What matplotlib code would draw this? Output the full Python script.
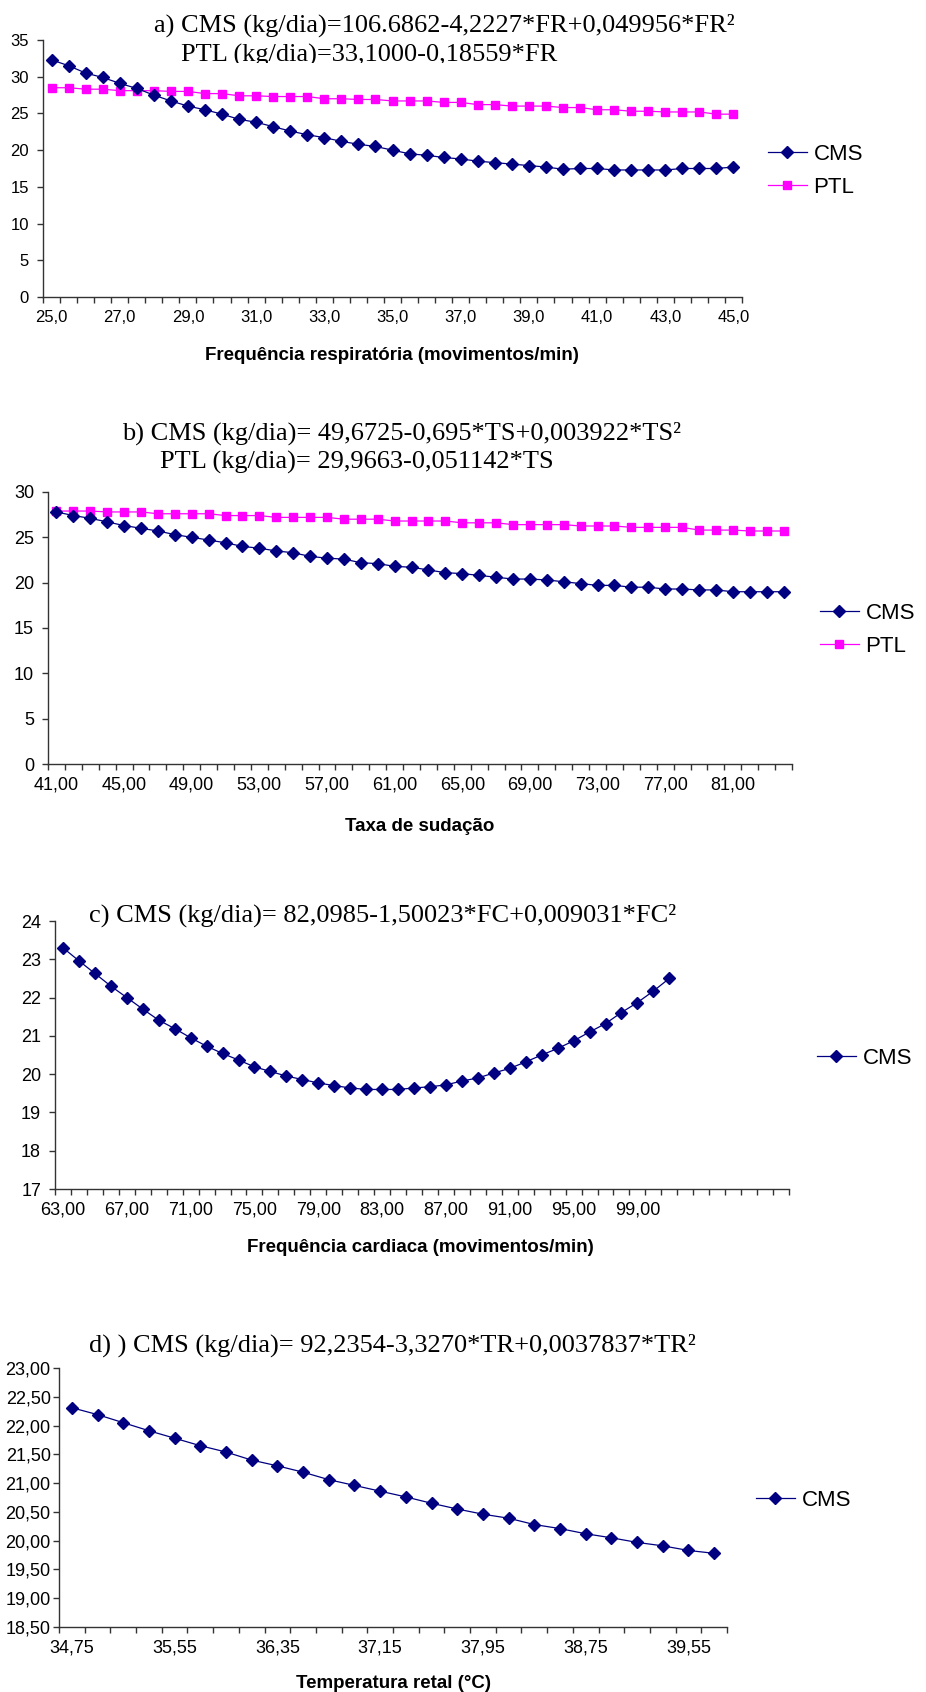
import numpy as np
import matplotlib
matplotlib.use("Agg")
import matplotlib.pyplot as plt
from matplotlib.lines import Line2D
from matplotlib.transforms import Bbox, TransformedBbox

plt.rcParams['font.family'] = ['Liberation Sans', 'DejaVu Sans']

# a) frequencia respiratoria
fr = [25.0, 25.5, 26.0, 26.5, 27.0, 27.5, 28.0, 28.5, 29.0, 29.5, 30.0, 30.5, 31.0, 31.5,
      32.0, 32.5, 33.0, 33.5, 34.0, 34.5, 35.0, 35.5, 36.0, 36.5, 37.0, 37.5, 38.0, 38.5,
      39.0, 39.5, 40.0, 40.5, 41.0, 41.5, 42.0, 42.5, 43.0, 43.5, 44.0, 44.5, 45.0]
cms_a = [32.3, 31.5, 30.5, 29.9, 29.1, 28.4, 27.5, 26.7, 26.0, 25.5, 24.9, 24.2, 23.8, 23.2,
         22.6, 22.1, 21.7, 21.2, 20.8, 20.5, 20.0, 19.5, 19.3, 19.0, 18.8, 18.5, 18.3, 18.1,
         17.9, 17.7, 17.4, 17.5, 17.5, 17.3, 17.3, 17.3, 17.3, 17.5, 17.5, 17.5, 17.7]
ptl_a = [28.5, 28.5, 28.3, 28.3, 28.1, 28.1, 28.1, 28.0, 28.0, 27.7, 27.7, 27.4, 27.4, 27.3,
         27.3, 27.3, 27.0, 27.0, 26.9, 26.9, 26.7, 26.7, 26.7, 26.5, 26.5, 26.2, 26.2, 26.0,
         26.0, 26.0, 25.8, 25.8, 25.5, 25.5, 25.3, 25.3, 25.2, 25.2, 25.2, 24.9, 24.9]

# b) taxa de sudacao
ts = list(range(41, 85))
cms_b = [27.8, 27.4, 27.1, 26.7, 26.3, 26.0, 25.7, 25.3, 25.0, 24.7, 24.4, 24.0, 23.8, 23.5,
         23.3, 22.9, 22.7, 22.6, 22.2, 22.1, 21.8, 21.7, 21.4, 21.1, 21.0, 20.8, 20.6, 20.4,
         20.4, 20.3, 20.1, 19.9, 19.7, 19.7, 19.5, 19.5, 19.3, 19.3, 19.2, 19.2, 19.0, 19.0,
         19.0, 19.0]
ptl_b = [27.9, 27.9, 27.9, 27.8, 27.8, 27.8, 27.6, 27.6, 27.6, 27.6, 27.4, 27.4, 27.4, 27.2,
         27.2, 27.2, 27.2, 27.0, 27.0, 27.0, 26.8, 26.8, 26.8, 26.8, 26.6, 26.6, 26.6, 26.4,
         26.4, 26.4, 26.4, 26.25, 26.25, 26.25, 26.1, 26.1, 26.1, 26.1, 25.8, 25.8, 25.8, 25.7,
         25.7, 25.7]

# c) frequencia cardiaca (46 categorias no eixo, 39 com dados)
fc = list(range(63, 109))
cms_c = [23.30, 22.96, 22.63, 22.30, 22.00, 21.70, 21.41, 21.19, 20.95, 20.73, 20.54, 20.37,
         20.19, 20.07, 19.95, 19.86, 19.77, 19.70, 19.64, 19.60, 19.60, 19.60, 19.64, 19.67,
         19.72, 19.82, 19.90, 20.03, 20.15, 20.32, 20.50, 20.67, 20.87, 21.10, 21.32, 21.61,
         21.87, 22.17, 22.50]

# d) temperatura retal
tr = [34.75, 34.95, 35.15, 35.35, 35.55, 35.75, 35.95, 36.15, 36.35, 36.55, 36.75, 36.95,
      37.15, 37.35, 37.55, 37.75, 37.95, 38.15, 38.35, 38.55, 38.75, 38.95, 39.15, 39.35,
      39.55, 39.75]
cms_d = [22.31, 22.19, 22.05, 21.91, 21.78, 21.65, 21.54, 21.40, 21.30, 21.19, 21.06, 20.96,
         20.86, 20.76, 20.65, 20.55, 20.46, 20.39, 20.28, 20.21, 20.12, 20.05, 19.97, 19.91,
         19.83, 19.78]

NAVY = '#000080'
PINK = '#FF00FF'
W, H = 926, 1692
fig = plt.figure(figsize=(W / 100, H / 100), dpi=100)


def px_axes(left, top, right, bottom):
    return fig.add_axes([left / W, 1 - bottom / H, (right - left) / W, (bottom - top) / H])


def setup(ax, cats, n_data, ylim, ystep, yfmt, fs, ypad, lab_fmt):
    ncat = len(cats)
    ax.set_xlim(-0.5, ncat - 0.5)
    ax.set_ylim(*ylim)
    for s in ['top', 'right']:
        ax.spines[s].set_visible(False)
    for s in ['left', 'bottom']:
        ax.spines[s].set_color('#333333')
        ax.spines[s].set_linewidth(1)
    idx = list(range(0, n_data, 4))
    ax.set_xticks(idx)
    ax.set_xticklabels([lab_fmt(cats[i]) for i in idx], fontsize=fs)
    ax.set_xticks(np.arange(ncat + 1) - 0.5, minor=True)
    ax.tick_params(axis='x', which='major', length=0, pad=9)
    ax.tick_params(axis='x', which='minor', length=4, width=1, color='#333333', direction='out')
    yt = np.arange(ylim[0], ylim[1] + ystep / 2, ystep)
    ax.set_yticks(yt)
    ax.set_yticklabels([yfmt(v) for v in yt], fontsize=fs)
    ax.tick_params(axis='y', length=4, width=1, color='#333333', direction='out', pad=ypad)


def legend(ax, handles, x, y, fs=16):
    ax.legend(handles=handles, loc='center left', bbox_to_anchor=(x / W, 1 - y / H),
              bbox_transform=fig.transFigure, frameon=False, fontsize=fs,
              handlelength=1.75, handletextpad=0.3, borderpad=0, borderaxespad=0,
              labelspacing=0.55)


def title(x, y, s, clip_bottom=None):
    t = fig.text(x / W, 1 - y / H, s, fontsize=19, family='Liberation Serif',
                 ha='left', va='center')
    if clip_bottom is not None:
        t.set_clip_box(TransformedBbox(Bbox([[0, 1 - clip_bottom / H], [1, 1]]), fig.transFigure))
        t.set_clip_on(True)


def xlabel(x, y, s):
    fig.text(x / W, 1 - y / H, s, fontsize=13.5, fontweight='bold', ha='center', va='center')


cms_style = dict(color=NAVY, lw=0.9, marker='D', ms=6.5, mfc=NAVY, mec=NAVY)
ptl_style = dict(color=PINK, lw=0.9, marker='s', ms=6, mfc=PINK, mec=PINK)
h_cms = Line2D([], [], label='CMS', **cms_style)
h_ptl = Line2D([], [], label='PTL', **ptl_style)
int_fmt = lambda v: f"{v:.0f}"
dec_fmt = lambda v: f"{v:.2f}".replace('.', ',')

# a
ax = px_axes(43, 40, 742, 297)
setup(ax, fr, len(fr), (0, 35), 5, int_fmt, 12, 6,
      lambda v: f"{v:.1f}".replace('.', ','))
ax.plot(range(len(ptl_a)), ptl_a, **ptl_style)
ax.plot(range(len(cms_a)), cms_a, **cms_style)
legend(ax, [h_cms, h_ptl], 768, 171)
title(154, 25, "a) CMS (kg/dia)=106.6862-4,2227*FR+0,049956*FR²")
title(181, 55, "PTL (kg/dia)=33,1000-0,18559*FR", clip_bottom=63)
xlabel(392, 355, "Frequência respiratória (movimentos/min)")

# b
ax = px_axes(48, 492, 792, 764)
setup(ax, ts, len(ts), (0, 30), 5, int_fmt, 13, 6, dec_fmt)
ax.plot(range(len(ptl_b)), ptl_b, **ptl_style)
ax.plot(range(len(cms_b)), cms_b, **cms_style)
legend(ax, [h_cms, h_ptl], 820, 630)
title(122, 433, "b) CMS (kg/dia)= 49,6725-0,695*TS+0,003922*TS²")
title(160, 462, "PTL (kg/dia)= 29,9663-0,051142*TS")
xlabel(420, 826, "Taxa de sudação")

# c
ax = px_axes(55, 921, 789, 1189)
setup(ax, fc, len(cms_c), (17, 24), 1, int_fmt, 13, 6, dec_fmt)
ax.plot(range(len(cms_c)), cms_c, **cms_style)
legend(ax, [h_cms], 817, 1058)
title(89, 915, "c) CMS (kg/dia)= 82,0985-1,50023*FC+0,009031*FC²")
xlabel(420, 1247, "Frequência cardiaca (movimentos/min)")

# d
ax = px_axes(59, 1368, 727, 1627)
setup(ax, tr, len(tr), (18.5, 23.0), 0.5, dec_fmt, 13, 2, dec_fmt)
ax.plot(range(len(cms_d)), cms_d, **cms_style)
legend(ax, [h_cms], 756, 1500)
title(89, 1345, "d) ) CMS (kg/dia)= 92,2354-3,3270*TR+0,0037837*TR²")
xlabel(393, 1683, "Temperatura retal (°C)")

fig.savefig("out.png", dpi=100, facecolor='white')
